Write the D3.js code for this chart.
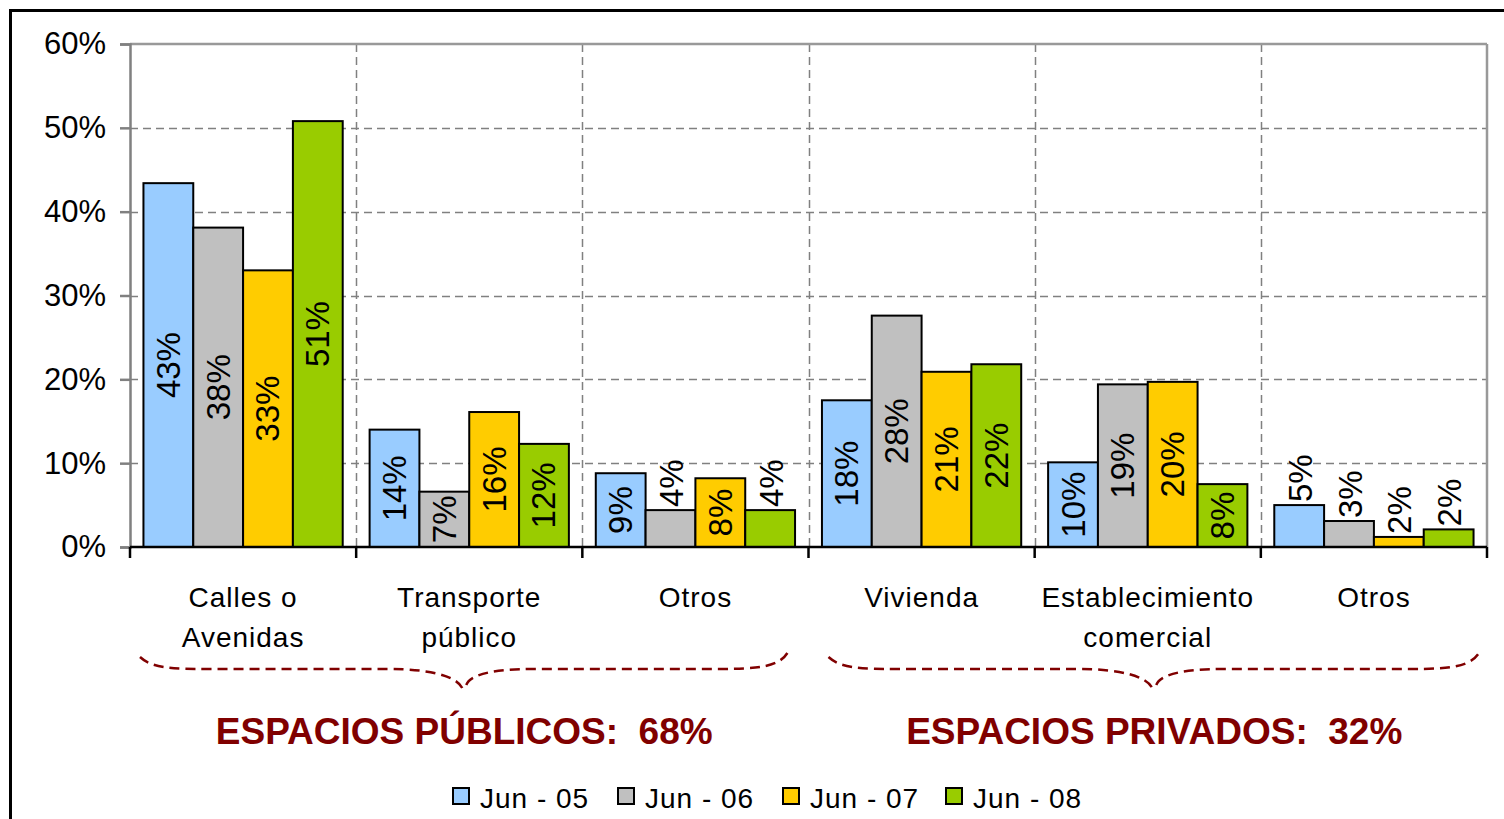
<!DOCTYPE html>
<html><head><meta charset="utf-8">
<script src="https://cdn.jsdelivr.net/npm/d3@7"></script>
<style>
body{margin:0;background:#fff;overflow:hidden}
text{font-family:"Liberation Sans",Arial,Helvetica,sans-serif}
</style></head>
<body><svg id="c" width="1504" height="819"></svg>
<script>
// ---- data ----
const categories = [["Calles o","Avenidas"],["Transporte","público"],["Otros"],["Vivienda"],["Establecimiento","comercial"],["Otros"]];
const seriesNames = ["Jun - 05","Jun - 06","Jun - 07","Jun - 08"];
const seriesColors = ["#99CCFF","#C0C0C0","#FFCC00","#99CC00"];
const jun05 = [43.4, 14.0, 8.8, 17.5, 10.1, 5.0];
const jun06 = [38.1, 6.6, 4.4, 27.6, 19.4, 3.1];
const jun07 = [33.0, 16.1, 8.2, 20.9, 19.7, 1.2];
const jun08 = [50.8, 12.3, 4.4, 21.8, 7.5, 2.1];
const lab05 = ["43%","14%","9%","18%","10%","5%"];
const lab06 = ["38%","7%","4%","28%","19%","3%"];
const lab07 = ["33%","16%","8%","21%","20%","2%"];
const lab08 = ["51%","12%","4%","22%","8%","2%"];
const yTicks = [0,10,20,30,40,50,60];
const groupTitles = ["ESPACIOS PÚBLICOS:  68%","ESPACIOS PRIVADOS:  32%"];

const seriesValues = [jun05,jun06,jun07,jun08];
const seriesLabels = [lab05,lab06,lab07,lab08];

const svg = d3.select("#c");
const L=130,R=1487,T=44,B=547;
const y = d3.scaleLinear([0,60],[B,T]);
const x0 = d3.scaleBand(d3.range(categories.length),[L,R]).padding(0);
const x1 = d3.scaleBand(d3.range(seriesNames.length),[0,x0.bandwidth()]).paddingInner(0).paddingOuter(0.27);
const bw = x0.bandwidth();

// outer border
svg.append("rect").attr("x",10.5).attr("y",10.5).attr("width",1600).attr("height",1000)
  .attr("fill","none").attr("stroke","#000").attr("stroke-width",3);

// grid
const g = svg.append("g");
yTicks.filter(t=>t>0&&t<60).forEach(t=>{
  g.append("line").attr("x1",L).attr("x2",R).attr("y1",Math.round(y(t))+0.5).attr("y2",Math.round(y(t))+0.5)
   .attr("stroke","#808080").attr("stroke-width",1.5).attr("stroke-dasharray","8,5");
});
d3.range(1,categories.length).forEach(i=>{
  const xx = Math.round(x0(i))+0.5;
  g.append("line").attr("x1",xx).attr("x2",xx).attr("y1",T).attr("y2",B)
   .attr("stroke","#808080").attr("stroke-width",1.5).attr("stroke-dasharray","8,5");
});
// top & right border of plot
g.append("line").attr("x1",L).attr("x2",R).attr("y1",y(60)).attr("y2",y(60)).attr("stroke","#999").attr("stroke-width",2.5);
g.append("line").attr("x1",R).attr("x2",R).attr("y1",T).attr("y2",B).attr("stroke","#999").attr("stroke-width",2.5);

// y axis
const yAxis = d3.axisLeft(y).tickValues(yTicks).tickFormat(d=>d+"%").tickSize(10).tickPadding(14);
const ya = svg.append("g").attr("transform",`translate(${L},0)`).call(yAxis);
ya.select(".domain").attr("stroke","#808080").attr("stroke-width",2.5);
ya.selectAll(".tick line").attr("stroke","#808080").attr("stroke-width",2.5);
ya.selectAll(".tick text").attr("font-size",31).attr("fill","#000")
  .attr("font-family","'Liberation Sans',Arial,sans-serif");

// bars
const bars = svg.append("g");
seriesValues.forEach((vals,s)=>{
  vals.forEach((v,c)=>{
    const bx = x0(c)+x1(s);
    bars.append("rect").attr("x",bx).attr("y",y(v)).attr("width",x1.bandwidth()).attr("height",B-y(v))
      .attr("fill",seriesColors[s]).attr("stroke","#000").attr("stroke-width",2);
  });
});
// labels
seriesValues.forEach((vals,s)=>{
  vals.forEach((v,c)=>{
    const cx = x0(c)+x1(s)+x1.bandwidth()/2;
    const h = B-y(v);
    const t = svg.append("text").attr("font-size",33).attr("fill","#000")
      .attr("dominant-baseline","central").text(seriesLabels[s][c]);
    if(h>=50){
      t.attr("text-anchor","middle").attr("transform",`translate(${cx},${(y(v)+B)/2}) rotate(-90)`);
    } else {
      t.attr("text-anchor","start").attr("transform",`translate(${cx+1},${y(v)-3}) rotate(-90)`);
    }
  });
});

// x axis
svg.append("line").attr("x1",L).attr("x2",R).attr("y1",B).attr("y2",B).attr("stroke","#000").attr("stroke-width",2.5);
d3.range(0,categories.length+1).forEach(i=>{
  const xx = i<categories.length ? x0(i) : R;
  svg.append("line").attr("x1",xx).attr("x2",xx).attr("y1",B).attr("y2",B+11).attr("stroke","#000").attr("stroke-width",2.5);
});
categories.forEach((lines,c)=>{
  const t = svg.append("text").attr("font-size",28).attr("letter-spacing",1).attr("text-anchor","middle").attr("fill","#000");
  lines.forEach((ln,k)=>{
    t.append("tspan").attr("x",x0(c)+bw/2).attr("y",607+k*40).text(ln);
  });
});

// braces
function brace(xa,xb,yEnd,yFlat,yTip){
  const m=(xa+xb)/2;
  const p=d3.path();
  p.moveTo(xa,yEnd);
  p.bezierCurveTo(xa+12,yFlat-1,xa+30,yFlat,xa+70,yFlat);
  p.lineTo(m-75,yFlat);
  p.bezierCurveTo(m-35,yFlat,m-8,yTip-12,m-2,yTip);
  p.moveTo(m+2,yTip-3);
  p.bezierCurveTo(m+6,yTip-14,m+30,yFlat,m+70,yFlat);
  p.lineTo(xb-70,yFlat);
  p.bezierCurveTo(xb-30,yFlat,xb-8,yFlat-2,xb,yEnd-6);
  return p.toString();
}
const braceSpans = [[x0(0)+10, x0(2)+bw-20],[x0(3)+20, x0(5)+bw-7]];
braceSpans.forEach((sp,i)=>{
  svg.append("path").attr("d",brace(sp[0],sp[1],657,669,688)).attr("fill","none")
    .attr("stroke","#800000").attr("stroke-width",2.5).attr("stroke-dasharray","10,6");
  svg.append("text").attr("x",(sp[0]+sp[1])/2).attr("y",744).attr("text-anchor","middle")
    .attr("font-size",37).attr("font-weight","bold").attr("fill","#800000")
    .style("white-space","pre").text(groupTitles[i]);
});

// legend
const legX = [453,618,783,946];
seriesNames.forEach((n,s)=>{
  svg.append("rect").attr("x",legX[s]).attr("y",788).attr("width",16).attr("height",16)
    .attr("fill",seriesColors[s]).attr("stroke","#000").attr("stroke-width",2);
  svg.append("text").attr("x",legX[s]+27).attr("y",808).attr("font-size",28).attr("letter-spacing",1)
    .attr("fill","#000").text(n);
});
</script></body></html>
